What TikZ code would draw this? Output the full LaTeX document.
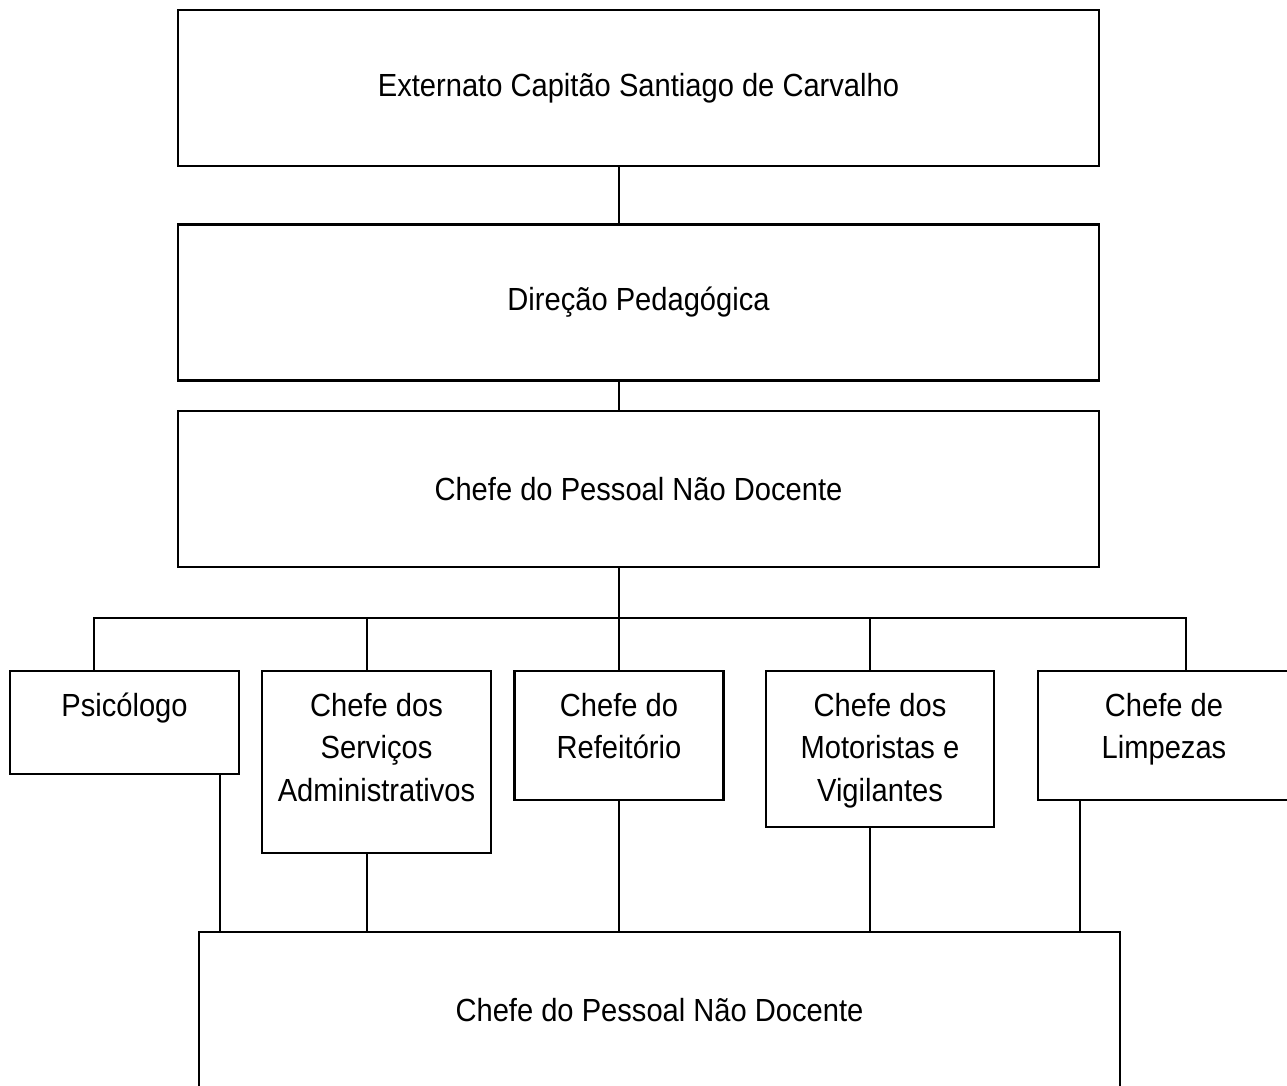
\documentclass[tikz,border=0pt]{standalone}
\usepackage{fontspec}
\setmainfont[FakeStretch=0.91]{Liberation Sans}
\usetikzlibrary{positioning}

\begin{document}
\begin{tikzpicture}[x=0.5pt, y=-0.5pt,
  unit/.style={draw, line width=1.2pt, minimum width=460.5pt, minimum height=78pt, inner sep=0pt, font=\fontsize{16pt}{21pt}\selectfont},
  post/.style={draw, line width=1.2pt, anchor=north, align=flush center, inner sep=0pt, text height=22.5pt, font=\fontsize{16pt}{21.25pt}\selectfont},
  link/.style={line width=0.9pt}
]
\useasboundingbox (0,0) rectangle (1287,1086);
\clip (0,0) rectangle (1287,1086);

% Top levels
\node[unit] (school) at (638.5, 88) {Externato Capitão Santiago de Carvalho};
\node[unit, below=28pt of school] (direction) {Direção Pedagógica};
\node[unit, below=14pt of direction] (staff) {Chefe do Pessoal Não Docente};

% Sections
\node[post, text width=114.5pt, text depth=29pt] (psych) at (124.5, 670) {Psicólogo};
\node[post, text width=114.5pt, text depth=68.5pt] (admin) at (376.5, 670) {Chefe dos\\Serviços\\Administrativos};
\node[post, text width=104.5pt, text depth=42pt] (canteen) at (619, 670) {Chefe do\\Refeitório};
\node[post, text width=114pt, text depth=55.5pt] (drivers) at (880, 670) {Chefe dos\\Motoristas e\\Vigilantes};
\node[post, text width=126pt, text depth=42pt] (cleaning) at (1164, 670) {Chefe de\\Limpezas};

% Bottom
\node[unit] (staffb) at (659.5, 1010) {Chefe do Pessoal Não Docente};

% Edges
\coordinate (bus) at (619, 618);
\draw[link] ([xshift=-9.75pt]school.south) -- ([xshift=-9.75pt]direction.north);
\draw[link] ([xshift=-9.75pt]direction.south) -- ([xshift=-9.75pt]staff.north);
\draw[link] ([xshift=-9.75pt]staff.south) -- (bus);

\coordinate (psych-up) at ([xshift=-15.25pt]psych.north);
\coordinate (admin-up) at ([xshift=-4.75pt]admin.north);
\coordinate (drivers-up) at ([xshift=-5pt]drivers.north);
\coordinate (cleaning-up) at ([xshift=11pt]cleaning.north);
\draw[link] (psych-up) |- (bus) -| (cleaning-up);
\draw[link] (admin-up) -- (admin-up |- bus);
\draw[link] (canteen.north) -- (canteen.north |- bus);
\draw[link] (drivers-up) -- (drivers-up |- bus);

\coordinate (psych-down) at ([xshift=47.75pt]psych.south);
\coordinate (admin-down) at ([xshift=-4.75pt]admin.south);
\coordinate (drivers-down) at ([xshift=-5pt]drivers.south);
\coordinate (cleaning-down) at ([xshift=-42pt]cleaning.south);
\draw[link] (psych-down) -- (psych-down |- staffb.north);
\draw[link] (admin-down) -- (admin-down |- staffb.north);
\draw[link] (canteen.south) -- (canteen.south |- staffb.north);
\draw[link] (drivers-down) -- (drivers-down |- staffb.north);
\draw[link] (cleaning-down) -- (cleaning-down |- staffb.north);
\end{tikzpicture}
\end{document}
